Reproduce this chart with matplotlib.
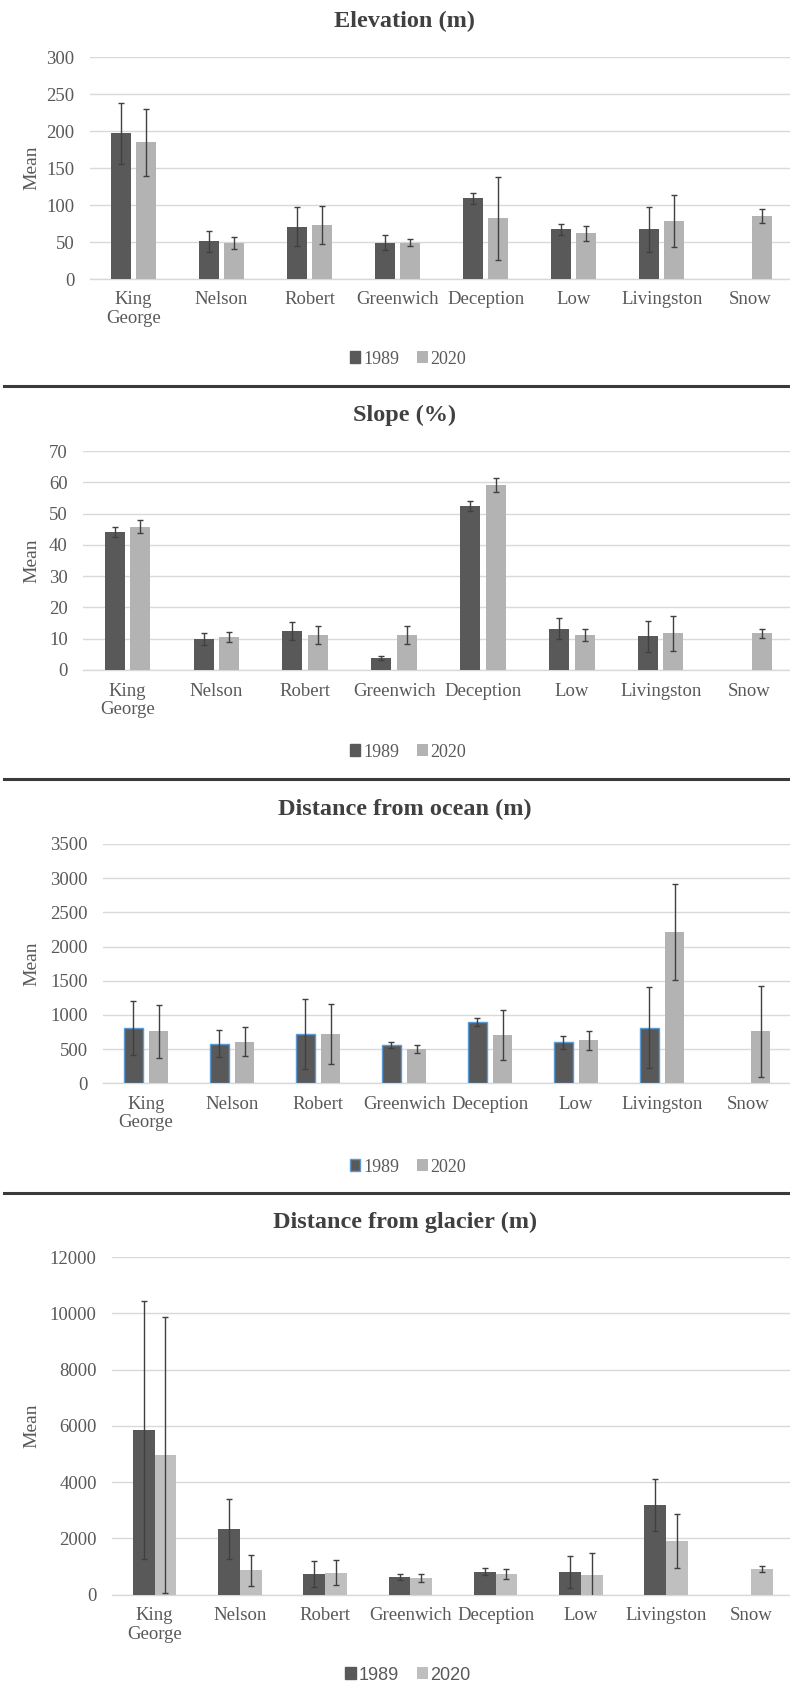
import numpy as np
import matplotlib
matplotlib.use("Agg")
import matplotlib.pyplot as plt
from matplotlib.lines import Line2D
from matplotlib.patches import Patch

plt.rcParams['font.family'] = ['Liberation Serif', 'DejaVu Serif']

categories = ['King\nGeorge', 'Nelson', 'Robert', 'Greenwich', 'Deception',
              'Low', 'Livingston', 'Snow']
series_names = ['1989', '2020']

elev_1989 = [197, 51, 71, 49, 109, 67, 67, np.nan]
elev_1989_err = [41, 14, 26, 10, 7, 7, 30, np.nan]
elev_2020 = [185, 49, 73, 49, 82, 62, 78, 85]
elev_2020_err = [45, 8, 26, 5, 56, 10, 35, 9.5]

slope_1989 = [44.1, 10.0, 12.5, 3.9, 52.5, 13.2, 10.8, np.nan]
slope_1989_err = [1.5, 1.9, 2.9, 0.7, 1.6, 3.4, 5.0, np.nan]
slope_2020 = [45.8, 10.7, 11.2, 11.2, 59.1, 11.2, 11.7, 11.7]
slope_2020_err = [2.0, 1.6, 2.8, 2.8, 2.3, 2.0, 5.6, 1.5]

ocean_1989 = [814, 580, 721, 561, 897, 600, 814, np.nan]
ocean_1989_err = [393, 195, 505, 40, 55, 97, 590, np.nan]
ocean_2020 = [760, 609, 726, 497, 707, 629, 2208, 760]
ocean_2020_err = [390, 215, 440, 60, 370, 140, 700, 665]

glacier_1989 = [5852, 2346, 723, 628, 817, 817, 3187, np.nan]
glacier_1989_err = [4573, 1066, 460, 95, 130, 570, 936, np.nan]
glacier_2020 = [4952, 865, 782, 580, 734, 687, 1907, 912]
glacier_2020_err = [4904, 550, 450, 140, 165, 780, 950, 120]

W, H = 790, 1685
fig = plt.figure(figsize=(W / 100, H / 100), dpi=100)

C1989 = '#595959'
TXT = '#595959'
GRID = '#d9d9d9'

panels = [
    dict(title='Elevation (m)', v1=elev_1989, e1=elev_1989_err, v2=elev_2020, e2=elev_2020_err,
         ylim=300, step=50, y0=279, ytop=57.3, left=89.5, right=794, width=0.227, off=0.142,
         title_y=21.5, leg_y=359, edge1=None, c2='#b3b3b3', leg_font='Liberation Serif'),
    dict(title='Slope (%)', v1=slope_1989, e1=slope_1989_err, v2=slope_2020, e2=slope_2020_err,
         ylim=70, step=10, y0=670, ytop=451, left=83, right=794, width=0.225, off=0.143,
         title_y=415.7, leg_y=752, edge1=None, c2='#b3b3b3', leg_font='Liberation Serif'),
    dict(title='Distance from ocean (m)', v1=ocean_1989, e1=ocean_1989_err, v2=ocean_2020, e2=ocean_2020_err,
         ylim=3500, step=500, y0=1083.3, ytop=844, left=103, right=791, width=0.225, off=0.148,
         title_y=809, leg_y=1167, edge1='#5b9bd5', c2='#b3b3b3', leg_font='Liberation Serif'),
    dict(title='Distance from glacier (m)', v1=glacier_1989, e1=glacier_1989_err, v2=glacier_2020, e2=glacier_2020_err,
         ylim=12000, step=2000, y0=1594.7, ytop=1257, left=112, right=794, width=0.255, off=0.1275,
         title_y=1222.7, leg_y=1675, edge1=None, c2='#bfbfbf', leg_font='Liberation Sans'),
]

x = np.arange(len(categories))
for p in panels:
    ax = fig.add_axes([p['left'] / W, 1 - p['y0'] / H,
                       (p['right'] - p['left']) / W, (p['y0'] - p['ytop']) / H])
    ek = dict(ecolor='#404040', elinewidth=1.0, capsize=2.5, capthick=1.0)
    if p['edge1']:
        ax.bar(x - p['off'], p['v1'], p['width'], color=C1989, edgecolor=p['edge1'],
               linewidth=1.0, zorder=2)
    else:
        ax.bar(x - p['off'], p['v1'], p['width'], color=C1989, linewidth=0, zorder=2)
    ax.bar(x + p['off'], p['v2'], p['width'], color=p['c2'], linewidth=0, zorder=2)
    ax.errorbar(x - p['off'], p['v1'], yerr=p['e1'], fmt='none', zorder=3, **ek)
    ax.errorbar(x + p['off'], p['v2'], yerr=p['e2'], fmt='none', zorder=3, **ek)
    ax.set_xlim(-0.5, len(categories) - 0.5)
    ax.set_ylim(0, p['ylim'])
    ax.set_yticks(np.arange(0, p['ylim'] + 1, p['step']))
    ax.set_xticks(x)
    ax.set_xticklabels(categories, fontsize=13.5, color=TXT, linespacing=1.1)
    ax.tick_params(axis='both', length=0)
    ax.tick_params(axis='x', pad=9)
    ax.tick_params(axis='y', pad=11, labelsize=13.5, labelcolor=TXT)
    ax.yaxis.grid(True, color=GRID, linewidth=1.0, zorder=0)
    ax.set_axisbelow(True)
    for s in ['top', 'right', 'left']:
        ax.spines[s].set_visible(False)
    ax.spines['bottom'].set_color(GRID)
    ax.spines['bottom'].set_linewidth(1.0)
    ax.spines['bottom'].set_zorder(1)
    fig.text(32 / W, 1 - ((p['y0'] + p['ytop']) / 2) / H, 'Mean', rotation=90,
             ha='center', va='center', fontsize=14, color=TXT)
    fig.text(405 / W, 1 - p['title_y'] / H, p['title'], ha='center', va='center',
             fontsize=17.5, fontweight='bold', color='#404040')
    h1 = Patch(facecolor=C1989, edgecolor=p['edge1'] if p['edge1'] else C1989, linewidth=1.0)
    h2 = Patch(facecolor=p['c2'], edgecolor=p['c2'], linewidth=0)
    fig.legend([h1, h2], series_names, loc='center', bbox_to_anchor=(408 / W, 1 - p['leg_y'] / H),
               ncol=2, frameon=False, handlelength=0.6, handleheight=0.6, handletextpad=0.15,
               columnspacing=1.0, prop={'family': p['leg_font'], 'size': 13}, labelcolor=TXT)

for ysep in [386.5, 779.5, 1192.5]:
    fig.add_artist(Line2D([4 / W, 1.0], [1 - ysep / H, 1 - ysep / H], color='#3a3a3a',
                          linewidth=2.2, transform=fig.transFigure))

fig.savefig('out.png', dpi=100, facecolor='white')
